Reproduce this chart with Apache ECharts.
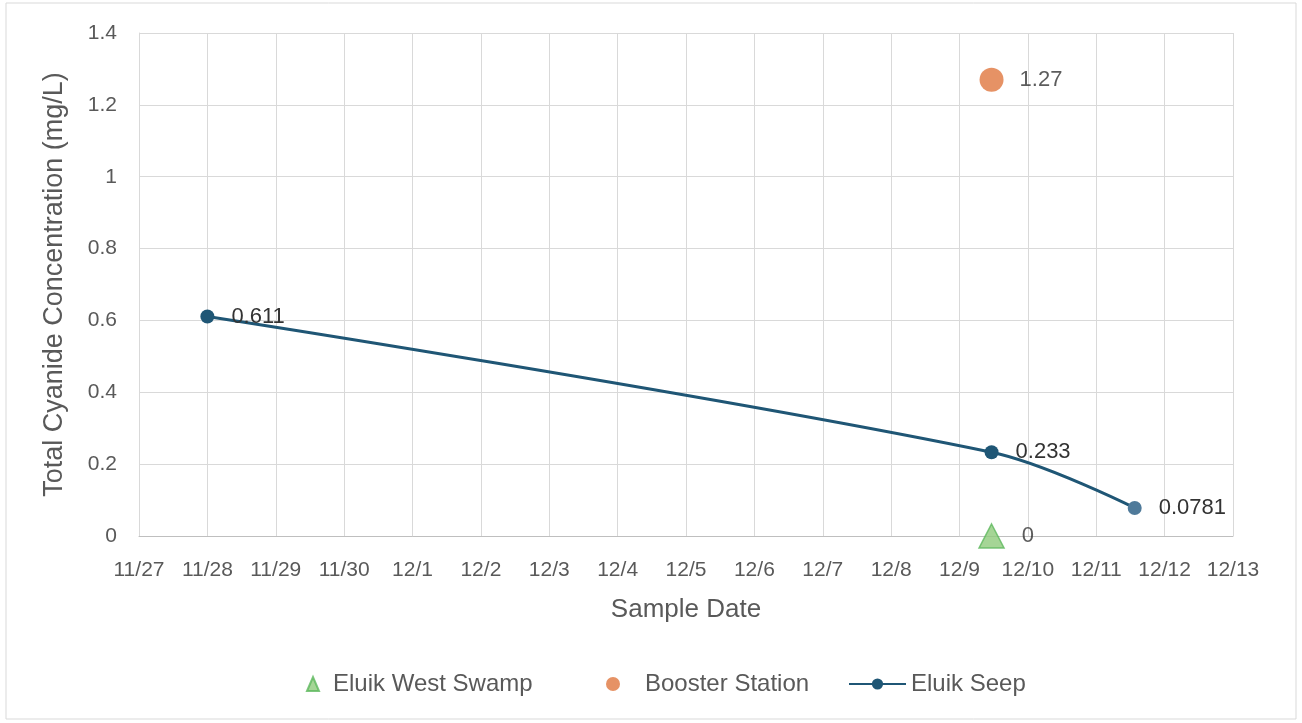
<!DOCTYPE html>
<html>
<head>
<meta charset="utf-8">
<script src="https://cdn.jsdelivr.net/npm/echarts@6/dist/echarts.min.js"></script>
<style>
html,body{margin:0;padding:0;background:#fff;}
#chart{width:1302px;height:723px;}
</style>
</head>
<body>
<div id="chart"></div>
<script>
// ---- data ----
var xTickLabels = ['11/27','11/28','11/29','11/30','12/1','12/2','12/3','12/4','12/5','12/6','12/7','12/8','12/9','12/10','12/11','12/12','12/13'];
var axisStartDate = '2024-11-27T00:00';
var swampDates = ['2024-12-09T11:15'];
var swampValues = [0];
var boosterDates = ['2024-12-09T11:15'];
var boosterValues = [1.27];
var seepDates = ['2024-11-28T00:00', '2024-12-09T11:15', '2024-12-11T13:30'];
var seepValues = [0.611, 0.233, 0.0781];
var yTicks = [0, 0.2, 0.4, 0.6, 0.8, 1, 1.2, 1.4];

function dayOffset(s){
  return (Date.parse(s + ':00Z') - Date.parse(axisStartDate + ':00Z')) / 86400000;
}
function pairs(dates, vals){
  return dates.map(function(d, i){ return [dayOffset(d), vals[i]]; });
}

var FONT = 'Liberation Sans, Arial, sans-serif';
var labelStyle = {show:true, position:'right', color:'#333', fontSize:22, fontFamily:FONT, formatter:function(p){return String(p.value[1]);}};
var legendText = {color:'#595959', fontSize:24, fontFamily:FONT};
var TRI = 'path://M0,14 L6,0 L12,14 Z';

var chart = echarts.init(document.getElementById('chart'));
chart.setOption({
  animation:false,
  backgroundColor:'#fff',
  graphic:[{type:'rect', shape:{x:6, y:3, width:1290, height:716}, style:{fill:'none', stroke:'#d9d9d9', lineWidth:1}, silent:true}],
  grid:{left:139, right:69, top:33, bottom:187},
  xAxis:{
    type:'value', min:0, max:xTickLabels.length-1, interval:1,
    name:'Sample Date', nameLocation:'middle', nameGap:61,
    nameTextStyle:{color:'#595959', fontSize:26, fontFamily:FONT},
    axisLine:{show:true, lineStyle:{color:'#bfbfbf', width:1}},
    axisTick:{show:false},
    axisLabel:{color:'#595959', fontSize:21, fontFamily:FONT, margin:24, formatter:function(v){return xTickLabels[Math.round(v)];}},
    splitLine:{show:true, lineStyle:{color:'#d9d9d9', width:1}}
  },
  yAxis:{
    type:'value', min:yTicks[0], max:yTicks[yTicks.length-1], interval:0.2,
    name:'Total Cyanide Concentration (mg/L)', nameLocation:'middle', nameGap:71,
    nameTextStyle:{color:'#595959', fontSize:27, fontFamily:FONT},
    axisLine:{show:true, lineStyle:{color:'#d9d9d9'}},
    axisTick:{show:false},
    axisLabel:{color:'#595959', fontSize:21, fontFamily:FONT, margin:22, formatter:function(v){return String(Math.round(v*10)/10);}},
    splitLine:{show:true, lineStyle:{color:'#d9d9d9', width:1}}
  },
  legend:[
    {left:306, top:672, padding:0, itemWidth:30, itemHeight:14, textStyle:legendText,
     data:[{name:'Eluik West Swamp', icon:TRI}]},
    {left:606, top:672, padding:0, itemWidth:54, itemHeight:14, textStyle:legendText,
     data:[{name:'Booster Station'}]},
    {left:848, top:672, padding:0, itemWidth:57, itemHeight:14, textStyle:legendText,
     data:[{name:'Eluik Seep'}]}
  ],
  series:[
    {
      name:'Eluik West Swamp', type:'scatter', symbol:'triangle', symbolSize:[25,24],
      itemStyle:{color:'#8fca7c', borderColor:'#5cb85c', borderWidth:1.5},
      label:Object.assign({}, labelStyle, {distance:17}),
      data:pairs(swampDates, swampValues), z:4
    },
    {
      name:'Booster Station', type:'scatter', symbol:'circle', symbolSize:24,
      itemStyle:{color:'#e0773f'},
      label:Object.assign({}, labelStyle, {distance:16}),
      data:pairs(boosterDates, boosterValues), z:4
    },
    {
      name:'Eluik Seep', type:'line', smooth:0.35, symbol:'circle', symbolSize:14,
      lineStyle:{color:'#1f5675', width:3},
      itemStyle:{color:'#1f5675'},
      label:Object.assign({}, labelStyle, {distance:17}),
      data:pairs(seepDates, seepValues).map(function(p, i){
        return i === 2 ? {value:p, itemStyle:{color:'#4f7a9a'}} : {value:p};
      }), z:3
    }
  ]
});
</script>
</body>
</html>
